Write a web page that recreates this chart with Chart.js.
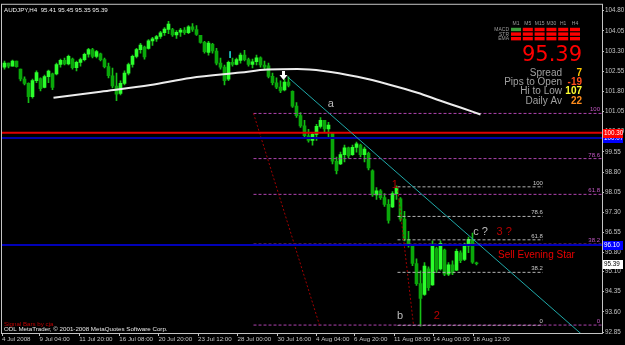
<!DOCTYPE html>
<html lang="en">
<head>
<meta charset="UTF-8">
<title>AUDJPY,H4</title>
<script src="https://cdn.jsdelivr.net/npm/chart.js@4"></script>
<style>
  body { margin: 0; background: #000; }
  canvas#priceChart { display: block; }
</style>
</head>
<body>
<canvas id="priceChart" width="625" height="345"></canvas>
<script>
// H4 candles (4 Jul - 18 Aug 2008)
const opens = [102.70,102.85,102.74,102.93,102.63,102.26,102.10,101.60,102.20,102.28,101.95,102.35,102.45,102.45,102.80,102.95,102.82,103.00,102.68,102.88,
  102.98,103.18,103.35,103.10,103.20,102.98,102.72,102.38,102.00,101.72,102.10,102.48,102.80,103.10,103.35,103.45,103.40,103.68,103.75,103.84,
  103.98,104.10,104.10,103.90,104.00,104.08,103.98,104.20,104.10,103.88,103.62,103.25,103.55,103.30,102.85,102.70,102.25,102.88,102.80,102.95,
  103.15,102.98,102.80,102.90,103.05,102.78,102.75,102.36,102.12,101.96,101.85,102.15,101.80,101.25,100.90,100.52,100.15,99.98,100.20,100.50,
  100.72,100.40,100.25,99.20,99.10,99.45,99.70,99.45,99.72,99.80,99.45,99.50,98.85,97.95,98.10,97.85,97.60,97.50,98.00,97.80,
  97.05,96.30,96.05,95.40,94.65,94.25,95.20,94.60,95.95,95.20,95.90,95.00,95.35,95.15,95.80,95.55,96.05,96.30,95.41];
const highs = [102.93,102.85,102.96,102.93,102.63,102.34,102.12,102.26,102.56,102.30,102.41,102.59,102.48,102.85,103.00,103.04,103.15,103.04,102.93,103.04,
  103.22,103.40,103.40,103.33,103.22,103.04,102.85,102.67,102.48,102.19,102.56,102.85,103.15,103.40,103.59,103.48,103.73,103.81,103.88,104.03,
  104.17,104.40,104.14,104.06,104.14,104.17,104.25,104.32,104.25,103.88,103.66,103.66,103.59,103.40,103.04,102.78,102.93,103.04,103.04,103.22,
  103.33,103.04,103.00,103.15,103.08,102.93,102.85,102.48,102.30,102.19,102.26,102.34,101.82,101.38,101.01,100.72,100.39,100.28,100.57,100.83,
  100.72,100.65,100.28,99.36,99.54,99.80,99.73,99.80,99.91,99.84,99.73,99.54,98.88,98.22,98.15,98.00,97.78,98.07,98.29,97.85,
  97.34,96.60,96.05,95.57,95.13,95.43,95.28,96.24,96.01,96.24,95.94,95.43,95.50,95.94,95.87,96.16,96.38,96.53,95.45];
const lows = [102.63,102.67,102.74,102.70,102.19,102.04,101.38,101.55,102.12,101.82,101.93,102.12,101.86,102.41,102.70,102.78,102.78,102.63,102.56,102.74,
  102.93,103.07,103.04,103.04,102.93,102.67,102.30,101.93,101.45,101.67,102.04,102.41,102.70,103.04,103.22,103.00,103.37,103.51,103.66,103.77,
  103.88,103.95,103.84,103.77,103.84,103.92,103.95,104.03,103.88,103.59,103.22,103.15,103.22,102.78,102.63,102.04,102.20,102.74,102.78,102.85,
  102.93,102.74,102.67,102.78,102.70,102.63,102.30,102.04,101.90,101.75,101.82,101.97,101.20,100.83,100.46,100.09,99.91,99.80,99.98,100.43,
  100.28,100.09,99.10,98.73,99.07,99.18,99.32,99.42,99.54,99.36,99.18,98.88,97.89,97.78,97.78,97.52,96.90,97.48,97.78,96.97,
  96.24,96.01,95.32,94.58,93.07,94.21,94.40,94.58,95.06,95.15,94.95,94.95,94.98,95.13,95.43,95.50,95.80,95.40,95.35];
const closes = [102.85,102.74,102.93,102.72,102.26,102.10,101.60,102.20,102.50,101.90,102.35,102.55,101.95,102.80,102.95,102.82,103.10,102.68,102.88,102.98,
  103.18,103.35,103.10,103.28,102.98,102.72,102.38,102.00,101.70,102.10,102.48,102.80,103.10,103.35,103.52,103.08,103.68,103.75,103.84,103.98,
  104.12,104.30,103.90,104.00,104.08,103.98,104.20,104.10,103.92,103.62,103.28,103.60,103.30,102.85,102.70,102.20,102.88,102.80,102.98,103.15,
  102.98,102.80,102.90,103.05,102.78,102.70,102.36,102.12,101.96,101.82,102.15,102.02,101.25,100.90,100.52,100.15,99.98,100.20,100.50,100.72,
  100.40,100.55,99.20,98.85,99.45,99.70,99.40,99.72,99.85,99.45,99.65,98.95,97.95,98.10,97.85,97.60,97.00,98.00,98.20,97.05,
  96.30,96.10,95.40,94.65,94.10,95.30,94.50,96.10,95.15,96.15,95.00,95.35,95.05,95.85,95.50,96.05,96.30,95.45,95.39];

// moving average (white curve)
const maX = [12.25, 24, 36.5, 46.5, 59, 65.75, 73.25, 79.75, 88.25, 96.5, 103.25, 109, 114, 119];
const maY = [101.56, 101.79, 102.04, 102.30, 102.50, 102.61, 102.63, 102.56, 102.34, 102.04, 101.75, 101.45, 101.20, 100.94];

// trend line and fibo anchors
const trendX = [70.75, 144.5];
const trendY = [102.34, 92.74];
const fibDiagAX = [62.25, 78.75];
const fibDiagAY = [100.98, 93.11];
const fibDiagBX = [98.25, 102.25];
const fibDiagBY = [98.26, 93.11];
const fibNames = ['100', '78.6', '61.8', '38.2', '0'];
const magentaFib = [100.98, 99.30, 97.97, 96.12, 93.11];
const whiteFib = [98.25, 97.15, 96.28, 95.07, 93.10];
const magentaFibStart = 62.25;
const whiteFibStart = 98.25;
const whiteFibEnd = 134.6;

// horizontal lines
const hLineVals = [100.07, 100.26, 96.09];
const hLineTags = ['100.07', '100.30', '96.10'];
const bidPrice = 95.39;

// signal marks
const cyanTickX = [56.4, 56.4];
const cyanTickY = [103.29, 103.04];
const arrowX = 69.5;
const arrowY = 102.56;

const noteText = ['a', 'b', 'c ?', '1', '2', '3 ?', 'Sell Evening Star'];
const noteX = [81.6, 98.9, 117.2, 97.6, 108.1, 123, 123.4];
const noteY = [101.33, 93.44, 96.57, 98.33, 93.44, 96.57, 95.72];

// axes
const xTickPos = [-0.625, 8.75, 18.7, 28.7, 38.5, 48.375, 58.25, 68.25, 77.875, 87.375, 97.375, 107.125, 117.125];
const xTickLabels = ['4 Jul 2008', '9 Jul 04:00', '11 Jul 20:00', '16 Jul 08:00', '20 Jul 20:00', '23 Jul 12:00',
  '28 Jul 00:00', '30 Jul 16:00', '4 Aug 04:00', '6 Aug 20:00', '11 Aug 08:00', '14 Aug 00:00', '18 Aug 12:00'];
const yTickLabels = ['104.80', '104.05', '103.30', '102.55', '101.80', '101.05', '100.30', '99.55', '98.80',
  '98.05', '97.30', '96.55', '95.80', '95.10', '94.35', '93.60', '92.85'];

// info panel
const tfLabels = ['M1', 'M5', 'M15', 'M30', 'H1', 'H4'];
const rowLabels = ['MACD', 'STR', 'EMA'];
const signalUp = [[1, 0, 0, 0, 0, 0], [0, 0, 0, 0, 0, 0], [0, 0, 0, 0, 0, 0]];
const statNames = ['Spread', 'Pips to Open', 'Hi to Low', 'Daily Av'];
const statValues = ['7', '-19', '107', '22'];

const sans = "'Liberation Sans', Arial, sans-serif";
const xMin = -0.625, xMax = 149.375;
const axisGray = '#c4c4c4';

function seg(xs, ys, color, width, dash, order, extra) {
    return Object.assign({
        type: 'line',
        data: xs.map((v, i) => ({x: v, y: ys[i]})),
        borderColor: color,
        borderWidth: width,
        borderDash: dash,
        pointRadius: 0,
        fill: false,
        tension: 0,
        order: order
    }, extra || {});
}

const datasets = [];
// candles: wick + body
datasets.push({
    type: 'bar',
    data: highs.map((h, i) => ({x: i, y: [lows[i], h]})),
    backgroundColor: '#16c016',
    barThickness: 1,
    grouped: false,
    order: 21
});
datasets.push({
    type: 'bar',
    data: opens.map((o, i) => ({x: i, y: [o, closes[i]]})),
    backgroundColor: ctx => closes[ctx.dataIndex] >= opens[ctx.dataIndex] ? '#2cff2c' : '#0aa80a',
    barThickness: 3,
    minBarLength: 1,
    grouped: false,
    order: 20
});
// white fibo (under magenta)
whiteFib.forEach(v => datasets.push(seg([whiteFibStart, whiteFibEnd], [v, v], '#b4b4b4', 1, [3, 2], 6)));
magentaFib.forEach(v => datasets.push(seg([magentaFibStart, xMax], [v, v], '#b044b0', 1, [3, 2], 5)));
datasets.push(seg(fibDiagAX, fibDiagAY, '#a00000', 1, [2, 2], 4));
datasets.push(seg(fibDiagBX, fibDiagBY, '#a00000', 1, [2, 2], 4));
datasets.push(seg([xMin, xMax], [hLineVals[0], hLineVals[0]], '#0000a8', 2, [], 3));
datasets.push(seg([xMin, xMax], [hLineVals[1], hLineVals[1]], '#e00000', 2, [], 3));
datasets.push(seg([xMin, xMax], [hLineVals[2], hLineVals[2]], '#0000b8', 2, [], 3));
datasets.push(seg(trendX, trendY, '#1fa8a8', 1, [], 2));
datasets.push(seg(cyanTickX, cyanTickY, '#20c8c8', 1, [], 2));
datasets.push(seg(maX, maY, '#ececec', 2, [], 1, {tension: 0.4, cubicInterpolationMode: 'monotone'}));

const overlay = {
    id: 'overlay',
    beforeDraw(chart) {
        const c = chart.ctx;
        c.save();
        c.fillStyle = '#000';
        c.fillRect(0, 0, chart.width, chart.height);
        c.restore();
    },
    afterDatasetsDraw(chart) {
        const {ctx, chartArea: a, scales: {x, y}} = chart;
        ctx.save();
        ctx.textBaseline = 'alphabetic';

        // fibo level tags
        ctx.font = `6px ${sans}`;
        ctx.textAlign = 'right';
        ctx.fillStyle = '#c458c4';
        fibNames.forEach((t, k) => ctx.fillText(t, a.right - 2, y.getPixelForValue(magentaFib[k]) - 2));
        ctx.fillStyle = '#c8c8c8';
        fibNames.forEach((t, k) => ctx.fillText(t, x.getPixelForValue(whiteFibEnd), y.getPixelForValue(whiteFib[k]) - 2));

        // wave notes
        ctx.textBaseline = 'middle';
        noteText.forEach((t, k) => {
            const px = x.getPixelForValue(noteX[k]);
            const py = y.getPixelForValue(noteY[k]);
            if (k < 3) ctx.fillStyle = '#bcbcbc';
            else if (k < 6) ctx.fillStyle = '#b80000';
            else ctx.fillStyle = '#e80000';
            ctx.font = k === 6 ? `10px ${sans}` : `11px ${sans}`;
            ctx.textAlign = (t.length > 1) ? 'left' : 'center';
            ctx.fillText(t, px, py);
        });

        // sell arrow
        const ax = Math.round(x.getPixelForValue(arrowX)) + 0.5;
        const ay = Math.round(y.getPixelForValue(arrowY));
        ctx.fillStyle = '#ffffff';
        ctx.fillRect(ax - 1.5, ay, 3, 5);
        ctx.beginPath();
        ctx.moveTo(ax - 4, ay + 4);
        ctx.lineTo(ax + 4, ay + 4);
        ctx.lineTo(ax, ay + 9);
        ctx.closePath();
        ctx.fill();

        // title + credits
        ctx.textAlign = 'left';
        ctx.textBaseline = 'middle';
        ctx.font = `6.2px ${sans}`;
        ctx.fillStyle = '#f0f0f0';
        ctx.fillText('AUDJPY,H4  95.41 95.45 95.35 95.39', a.left + 2, a.top + 5.5);
        ctx.fillStyle = '#c00000';
        ctx.fillText('Signal Bars by cja', a.left + 2, a.bottom - 9);
        ctx.fillStyle = '#e8e8e8';
        ctx.fillText('ODL MetaTrader, \u00a9 2001-2008 MetaQuotes Software Corp.', a.left + 2, a.bottom - 4);

        // signal panel
        const r = a.right;
        ctx.font = `5px ${sans}`;
        ctx.fillStyle = '#9c9c9c';
        ctx.textAlign = 'center';
        tfLabels.forEach((t, c) => ctx.fillText(t, r - 86 + c * 11.8, a.top + 19));
        ctx.textAlign = 'right';
        rowLabels.forEach((t, k) => ctx.fillText(t, r - 93, a.top + 25 + k * 4.6));
        signalUp.forEach((row, k) => row.forEach((up, c) => {
            ctx.fillStyle = up ? '#3c9c3c' : '#ff0000';
            ctx.fillRect(r - 91 + c * 11.8, a.top + 23 + k * 4.6, 10, 3.4);
        }));
        ctx.fillStyle = '#ff0000';
        ctx.font = `21px 'DejaVu Sans', sans-serif`;
        ctx.textAlign = 'center';
        ctx.textBaseline = 'alphabetic';
        ctx.fillText(bidPrice.toFixed(2), r - 50, a.top + 56);

        const statColors = ['#ffc800', '#ff4c1c', '#ffff30', '#ff8c1c'];
        statNames.forEach((t, k) => {
            const ly = a.top + 68 + k * 9.4;
            ctx.textBaseline = 'middle';
            ctx.textAlign = 'right';
            ctx.font = `10px ${sans}`;
            ctx.fillStyle = '#a0a0a0';
            ctx.fillText(t, r - 40, ly);
            ctx.fillStyle = statColors[k];
            ctx.font = `bold 10px ${sans}`;
            ctx.fillText(statValues[k], r - 20, ly);
        });
        ctx.restore();
    },
    afterDraw(chart) {
        const {ctx, chartArea: a, scales: {y}} = chart;
        ctx.save();
        ctx.strokeStyle = axisGray;
        ctx.lineWidth = 1;
        ctx.strokeRect(a.left - 0.5, a.top - 0.5, a.right - a.left + 1, a.bottom - a.top + 1);

        // price tags on the axis
        const tag = (v, text, bg, fg) => {
            const py = Math.round(y.getPixelForValue(v));
            ctx.fillStyle = bg;
            ctx.fillRect(a.right + 1, py - 4, 20, 9);
            ctx.fillStyle = fg;
            ctx.font = `6.3px ${sans}`;
            ctx.textAlign = 'left';
            ctx.textBaseline = 'middle';
            ctx.fillText(text, a.right + 2, py + 0.5);
        };
        tag(hLineVals[0], hLineTags[0], '#0000ff', '#ffffff');
        tag(hLineVals[1], hLineTags[1], '#ff0000', '#ffffff');
        tag(hLineVals[2], hLineTags[2], '#0000ff', '#ffffff');
        tag(bidPrice, bidPrice.toFixed(2), '#ffffff', '#000000');
        ctx.restore();
    }
};

new Chart(document.getElementById('priceChart').getContext('2d'), {
    type: 'bar',
    data: {datasets: datasets},
    options: {
        responsive: false,
        animation: false,
        devicePixelRatio: 1,
        layout: {padding: {left: 2, top: 1, right: 0, bottom: 0}},
        plugins: {legend: {display: false}, tooltip: {enabled: false}},
        scales: {
            x: {
                type: 'linear',
                min: xMin,
                max: xMax,
                offset: false,
                grid: {display: true, offset: false, drawOnChartArea: false, drawTicks: true, tickLength: 3, color: axisGray},
                border: {display: false},
                afterBuildTicks: s => { s.ticks = xTickPos.map(v => ({value: v})); },
                afterFit: s => { s.height = 12; },
                ticks: {
                    autoSkip: false,
                    maxRotation: 0,
                    align: 'start',
                    padding: 0,
                    color: axisGray,
                    font: {family: sans, size: 6.2},
                    callback: (v, i) => xTickLabels[i]
                }
            },
            y: {
                type: 'linear',
                position: 'right',
                min: 92.815,
                max: 105.02,
                grid: {display: true, drawOnChartArea: false, drawTicks: true, tickLength: 2, color: axisGray},
                border: {display: false},
                afterBuildTicks: s => { s.ticks = yTickLabels.map(t => ({value: parseFloat(t)})); },
                afterFit: s => { s.width = 23; },
                ticks: {
                    padding: 1,
                    color: axisGray,
                    font: {family: sans, size: 6.3},
                    callback: (v, i) => yTickLabels[i]
                }
            }
        }
    },
    plugins: [overlay]
});
</script>
</body>
</html>
